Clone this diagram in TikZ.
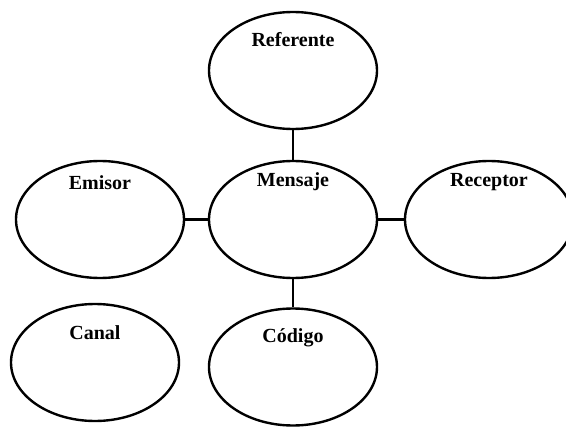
\documentclass[tikz,border=0pt]{standalone}
\usepackage{fontspec}
\setmainfont{Liberation Serif}
\usetikzlibrary{shapes.geometric, positioning}

\begin{document}
\begin{tikzpicture}[x=1pt, y=1pt, on grid, line width=2.4pt,
        bubble/.style={ellipse, draw, minimum width=168pt, minimum height=117pt, inner sep=0pt},
        tag/.style={anchor=base, inner sep=0pt, font=\bfseries\fontsize{20}{24}\selectfont}]
        \useasboundingbox (0,0) rectangle (566,-431);

        \node[bubble, label={[tag, name=tmen, yshift=-27pt]north:Mensaje}]   (men) at (293,-219.5)      {};
        \node[bubble, label={[tag, name=tref, yshift=-36pt]north:Referente}] (ref) [above=149pt of men] {};
        \node[bubble, label={[tag, name=temi, yshift=-30pt]north:Emisor}]    (emi) [left=193pt of men]  {};
        \node[bubble, label={[tag, name=trec, yshift=-27pt]north:Receptor}]  (rec) [right=196pt of men] {};
        \node[bubble, label={[tag, name=tcod, yshift=-35pt]north:Código}]    (cod) [below=147.5pt of men] {};
        \node[bubble, label={[tag, name=tcan, yshift=-37pt]north:Canal}]     (can) [below=143pt of emi, xshift=-5pt] {};

        \draw (ref) -- (men);
        \draw (emi) -- (men);
        \draw (men) -- (rec);
        \draw (men) -- (cod);
    \end{tikzpicture}
\end{document}
